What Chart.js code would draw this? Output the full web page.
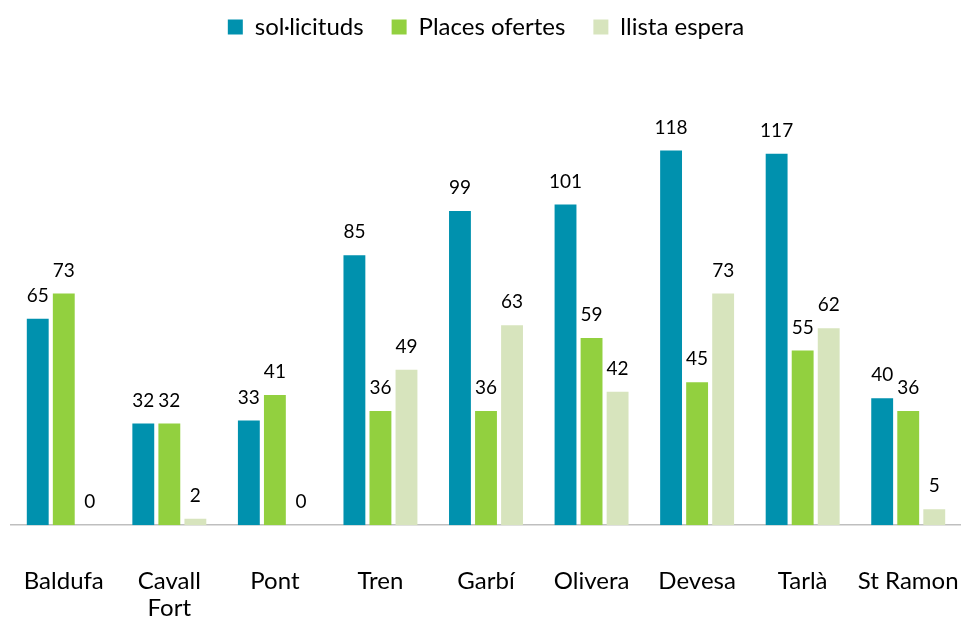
<!DOCTYPE html>
<html>
<head>
<meta charset="utf-8">
<script src="https://cdn.jsdelivr.net/npm/chart.js@4.4.1/dist/chart.umd.min.js"></script>
<style>
  html, body { margin: 0; padding: 0; background: #fff; overflow: hidden; }
  #wrap { width: 961px; height: 621px; }
  canvas { display: block; }
</style>
</head>
<body>
<div id="wrap"><canvas id="barChart" width="961" height="621"></canvas></div>
<script>
var escoles = ['Baldufa', ['Cavall', 'Fort'], 'Pont', 'Tren', 'Garbí', 'Olivera', 'Devesa', 'Tarlà', 'St Ramon'];
var solicituds = [65, 32, 33, 85, 99, 101, 118, 117, 40];
var placesOfertes = [73, 32, 41, 36, 36, 59, 45, 55, 36];
var llistaEspera = [0, 2, 0, 49, 63, 42, 73, 62, 5];

var fontFamily = 'Lato, "Open Sans", sans-serif';

// write each value just above its bar
var valueLabels = {
	id : 'valueLabels',
	afterDatasetsDraw : function(chart) {
		var ctx = chart.ctx;
		ctx.save();
		ctx.font = '19px ' + fontFamily;
		ctx.fillStyle = '#000';
		ctx.textAlign = 'center';
		ctx.textBaseline = 'middle';
		chart.data.datasets.forEach(function(ds, i) {
			var meta = chart.getDatasetMeta(i);
			meta.data.forEach(function(bar, j) {
				ctx.fillText(String(ds.data[j]), bar.x, bar.y - 23);
			});
		});
		ctx.restore();
	}
};

var ctx = document.getElementById('barChart').getContext('2d');
new Chart(ctx, {
	type : 'bar',
	data : {
		labels : escoles,
		datasets : [ {
			label : 'sol·licituds',
			data : solicituds,
			backgroundColor : '#0091ae'
		}, {
			label : 'Places ofertes',
			data : placesOfertes,
			backgroundColor : '#92d03f'
		}, {
			label : 'llista espera',
			data : llistaEspera,
			backgroundColor : '#d7e4bd'
		} ]
	},
	options : {
		responsive : false,
		animation : false,
		devicePixelRatio : 1,
		layout : { padding : { left : 11, right : 0, top : -13, bottom : 0 } },
		datasets : {
			bar : { categoryPercentage : 0.74, barPercentage : 0.84 }
		},
		plugins : {
			legend : {
				position : 'top',
				labels : {
					boxWidth : 15,
					boxHeight : 15,
					padding : 28,
					color : '#000',
					font : { family : fontFamily, size : 24 }
				}
			},
			tooltip : { enabled : false }
		},
		scales : {
			x : {
				grid : {
					display : true,
					drawOnChartArea : false,
					drawTicks : true,
					tickLength : 43,
					color : 'rgba(0,0,0,0)'
				},
				border : { display : true, color : '#bfbfbf', width : 1.5 },
				ticks : {
					color : '#000',
					padding : 0,
					maxRotation : 0,
					autoSkip : false,
					font : { family : fontFamily, size : 24, lineHeight : 1.1 }
				}
			},
			y : {
				display : false,
				min : 0,
				max : 150
			}
		}
	},
	plugins : [ valueLabels ]
});
</script>
</body>
</html>
